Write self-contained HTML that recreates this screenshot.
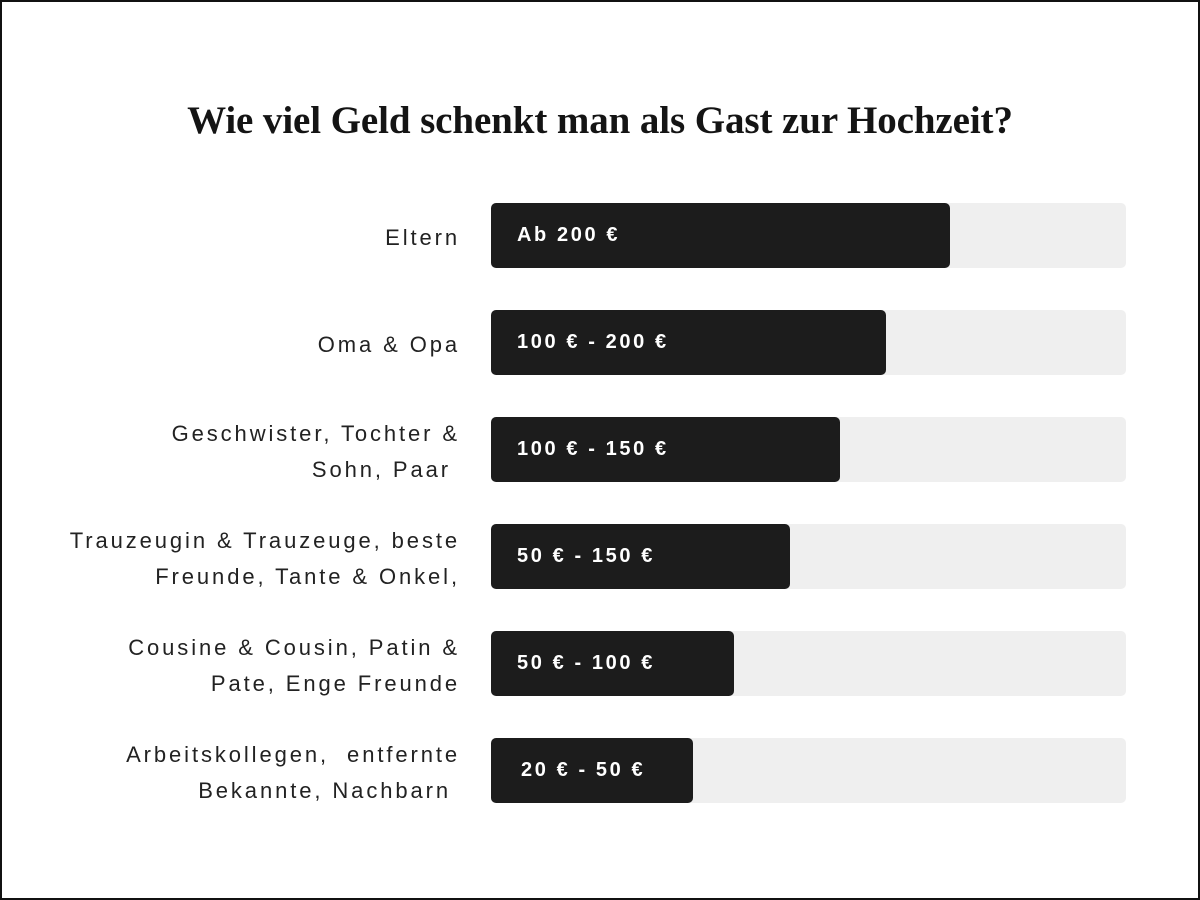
<!DOCTYPE html>
<html><head><meta charset="utf-8"><style>
html,body{margin:0;padding:0;background:#fff}
#frame{position:relative;width:1196px;height:896px;border:2px solid #111;overflow:hidden;font-family:"Liberation Sans",sans-serif}
#title{position:absolute;left:0;width:1196px;top:96px;text-align:center;font-family:"Liberation Serif",serif;font-weight:bold;font-size:39px;letter-spacing:-0.1px;color:#141414}
.lbl{position:absolute;right:738px;text-align:right;font-size:22px;letter-spacing:2.9px;line-height:36px;color:#222;white-space:nowrap}
.track{position:absolute;left:489px;width:635px;height:65px;background:#efefef;border-radius:5px}
.bar{position:absolute;left:489px;height:65px;background:#1c1c1c;border-radius:5px}
.val{position:absolute;color:#fff;font-weight:bold;font-size:20px;letter-spacing:2.6px;line-height:65px;white-space:nowrap}
</style></head><body>
<div id="frame">
<div id="title">Wie viel Geld schenkt man als Gast zur Hochzeit?</div>
</div>
<script>
const categories=[["Eltern"],["Oma & Opa"],["Geschwister, Tochter &","Sohn, Paar\u00a0"],["Trauzeugin & Trauzeuge, beste","Freunde, Tante & Onkel,"],["Cousine & Cousin, Patin &","Pate, Enge Freunde"],["Arbeitskollegen,\u00a0 entfernte","Bekannte, Nachbarn\u00a0"]];
const values=[72.3,62.2,55,47.1,38.3,31.8];
const valueLabels=["Ab 200 €","100 € - 200 €","100 € - 150 €","50 € - 150 €","50 € - 100 €","20 € - 50 €"];
const f=document.getElementById('frame');
const maxV=100, trackW=635;
function xScale(v){return v/maxV*trackW;}
function yRow(i){return 201+i*107;}
categories.forEach((c,i)=>{
  const y=yRow(i);
  const t=document.createElement('div');t.className='track';t.style.top=y+'px';
  
  
  f.appendChild(t);
  const b=document.createElement('div');b.className='bar';b.style.top=y+'px';b.style.width=xScale(values[i])+'px';
  
  
  f.appendChild(b);
  const v=document.createElement('div');v.className='val';v.style.top=y+'px';v.style.left=(i==5?519:515)+'px';v.textContent=valueLabels[i];
  
  
  f.appendChild(v);
  const l=document.createElement('div');l.className='lbl';
  l.innerHTML=c.map(s=>s.replace(/&/g,'&amp;')).join('<br>');
  l.style.top=(y+34.5-c.length*18)+'px';
  
  
  f.appendChild(l);
});
</script>
</body></html>
